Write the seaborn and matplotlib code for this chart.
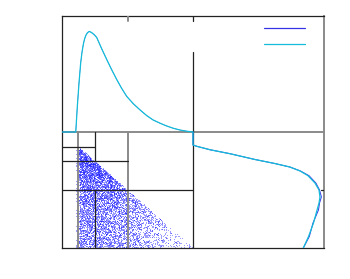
import numpy as np
import pandas as pd
import matplotlib
matplotlib.use("Agg")
import matplotlib.pyplot as plt
import seaborn as sns
from matplotlib.lines import Line2D

# ---------------- data ----------------
# top marginal: position u (lower-left panel units 0..1) and curve height (panel fraction)
top_u = [0.0, 0.105, 0.111, 0.117, 0.124, 0.13, 0.143, 0.153, 0.163, 0.173, 0.183, 0.195,
         0.208, 0.225, 0.245, 0.265, 0.3, 0.341, 0.38, 0.418, 0.455, 0.494, 0.545,
         0.595, 0.645, 0.695, 0.75, 0.799, 0.85, 0.901, 0.95, 1.0]
top_h = [0.0, 0.0, 0.11, 0.22, 0.33, 0.426, 0.6, 0.69, 0.757, 0.805, 0.835, 0.857,
         0.867, 0.858, 0.84, 0.815, 0.725, 0.626, 0.535, 0.452, 0.377, 0.307, 0.243,
         0.191, 0.143, 0.104, 0.075, 0.052, 0.032, 0.017, 0.007, 0.0]

# right marginal: vertical position w (0 bottom .. 1 top) and curve width (panel fraction)
right_w = [1.0, 0.888, 0.877, 0.847, 0.813, 0.763, 0.728, 0.698, 0.664, 0.623,
           0.56, 0.5, 0.44, 0.388, 0.328, 0.216, 0.099, 0.0]
right_g_theory = [0.0, 0.0, 0.028, 0.13, 0.282, 0.473, 0.626, 0.74, 0.817, 0.878,
                  0.931, 0.962, 0.969, 0.962, 0.947, 0.92, 0.882, 0.842]
right_g_sample = [0.0, 0.0, 0.028, 0.13, 0.282, 0.473, 0.626, 0.74, 0.82, 0.886,
                  0.938, 0.966, 0.98, 0.966, 0.958, 0.916, 0.888, 0.842]

# scatter: relative point density in cells (rows: v from top 0.13..1, cols: u)
u_edges = [0.105, 0.13, 0.2, 0.3, 0.4, 0.5, 0.6, 0.7, 0.8, 0.9, 1.0]
v_edges = [0.13, 0.2, 0.3, 0.4, 0.5, 0.6, 0.7, 0.8, 0.9, 1.0]
density = [
    [2.0, 10, 0, 0, 0, 0, 0, 0, 0, 0],
    [2.0, 10, 10, 0, 0, 0, 0, 0, 0, 0],
    [1.5, 8, 9, 8, 0, 0, 0, 0, 0, 0],
    [1.5, 7, 7, 7, 6, 0, 0, 0, 0, 0],
    [1.2, 6, 6, 6, 5, 4, 0, 0, 0, 0],
    [1.2, 5, 5, 5, 4.5, 3.5, 2.5, 0, 0, 0],
    [1.0, 5, 5, 4.5, 4, 3, 2.5, 2, 0, 0],
    [1.0, 4.5, 4.5, 4, 3.5, 3, 2, 1.5, 1, 0],
    [1.0, 4.5, 4.5, 4, 3.5, 3, 2, 1.5, 1, 0.8],
]

# structure lines (data units: lower-left panel is 0..1 x 0..1, full frame 0..2)
dark_h = [(0.875, 0.0, 0.25), (0.75, 0.0, 0.5), (0.5, 0.0, 1.0)]
dark_v = [(0.25, 0.75, 1.0), (0.25, 0.0, 0.5), (1.0, 0.0, 1.69)]
gray_v = [(0.125, 0.0, 1.0), (0.5, 0.0, 1.0)]
gray_h = [(1.0, 0.0, 2.0)]

BLUE = "#3434e6"
CYAN = "#14bcd8"
DARK = "#222222"
GRAY = "#8a8a8a"

# ---------------- scatter points (deterministic quasi-uniform fill of each cell) ----------------
K = 3700
s2, s3, s5 = np.sqrt(2.0), np.sqrt(3.0), np.sqrt(5.0)
xs, ys = [], []
idx = 0
for r in range(len(v_edges) - 1):
    for c in range(len(u_edges) - 1):
        d = density[r][c]
        if d <= 0:
            continue
        u0, u1 = u_edges[c], u_edges[c + 1]
        v0, v1 = v_edges[r], v_edges[r + 1]
        n = int(round(d * (u1 - u0) * (v1 - v0) * K))
        for _ in range(n):
            idx += 1
            fu = (idx * idx * s2 + idx * s5) % 1
            fv = (idx * idx * s3 + idx * s2 * 0.5) % 1
            u = u0 + fu * (u1 - u0)
            v = v0 + fv * (v1 - v0)
            if v >= u:
                xs.append(u)
                ys.append(1 - v)
pts = pd.DataFrame({"x": xs, "y": ys})

# ---------------- figure ----------------
sns.set_theme(style="white")
plt.rcParams["font.family"] = ["DejaVu Sans"]
fig = plt.figure(figsize=(3.5, 2.79), dpi=100)
ax = fig.add_axes([62 / 350, 1 - 248 / 279, 262 / 350, 232 / 279])
ax.set_xlim(0, 2)
ax.set_ylim(0, 2.0)

sns.scatterplot(data=pts, x="x", y="y", s=0.6, color="#2222ff", alpha=0.5,
                linewidth=0, ax=ax, legend=False, zorder=1)

for x, y0, y1 in gray_v:
    ax.plot([x, x], [y0, y1], color=GRAY, lw=1.4, zorder=2)
for y, x0, x1 in gray_h:
    ax.plot([x0, x1], [y, y], color=GRAY, lw=1.4, zorder=2)
for y, x0, x1 in dark_h:
    ax.plot([x0, x1], [y, y], color=DARK, lw=0.9, zorder=3)
for x, y0, y1 in dark_v:
    ax.plot([x, x], [y0, y1], color=DARK, lw=0.9, zorder=3)
# small ticks
ax.plot([0.5, 0.5], [2.0, 1.96], color=GRAY, lw=1.4, zorder=3)
ax.plot([1.0, 1.0], [2.0, 1.96], color=DARK, lw=0.9, zorder=3)
ax.plot([1.98, 2.0], [0.5, 0.5], color=DARK, lw=0.9, zorder=3)

# top marginal curves
tu = np.array(top_u)
th = 1 + np.array(top_h)
sns.lineplot(x=tu, y=th, color=BLUE, lw=0.3, ax=ax, sort=False, estimator=None, zorder=4)
sns.lineplot(x=tu, y=th, color=CYAN, lw=0.9, ax=ax, sort=False, estimator=None, zorder=5)

# right marginal curves
rw = np.array(right_w)
sns.lineplot(x=1 + np.array(right_g_sample), y=rw, color=BLUE, lw=0.7, ax=ax,
             sort=False, estimator=None, zorder=4)
sns.lineplot(x=1 + np.array(right_g_theory), y=rw, color=CYAN, lw=0.9, ax=ax,
             sort=False, estimator=None, zorder=5)

# legend (empty titles)
handles = [Line2D([], [], color=BLUE, lw=0.9), Line2D([], [], color=CYAN, lw=0.9)]
ax.legend(handles, [" ", " "], loc="upper left", bbox_to_anchor=(0.772, 0.965),
          frameon=False, handlelength=3.7, handletextpad=0.2, fontsize=8,
          borderpad=0.0, borderaxespad=0.0, labelspacing=0.55)

ax.set_xticks([])
ax.set_yticks([])
ax.set_xlabel("")
ax.set_ylabel("")
for side in ["left", "bottom", "top"]:
    ax.spines[side].set_color(DARK)
    ax.spines[side].set_linewidth(0.9)
ax.spines["right"].set_color(GRAY)
ax.spines["right"].set_linewidth(1.4)

fig.savefig("out.png", dpi=100)
